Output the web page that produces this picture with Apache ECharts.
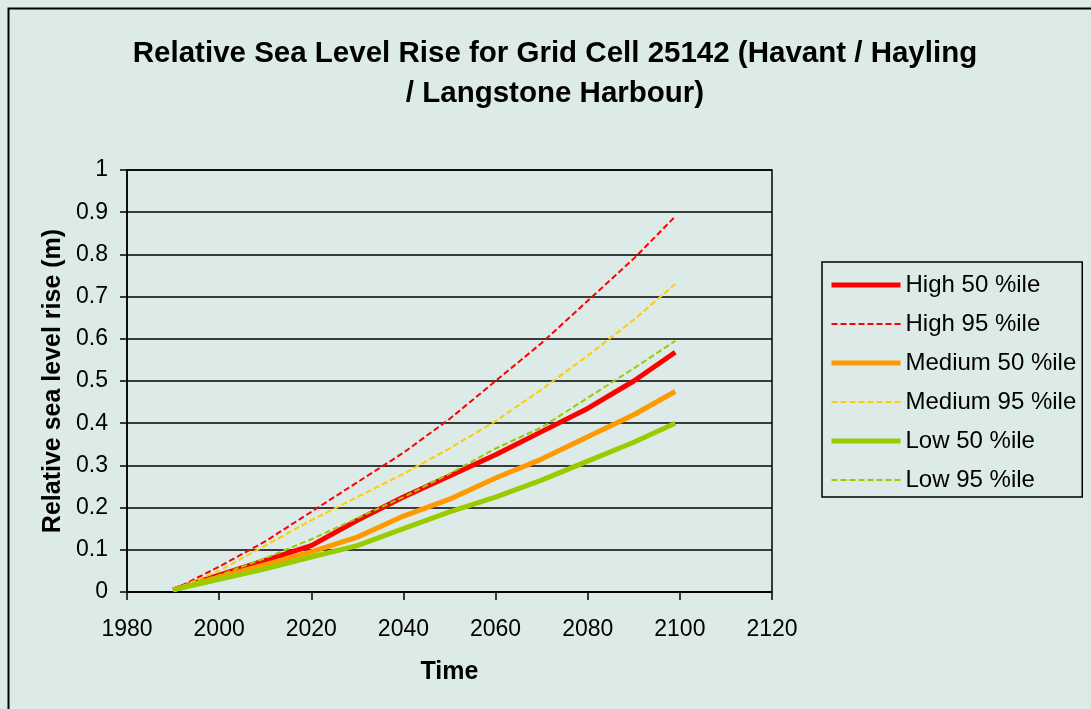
<!DOCTYPE html>
<html>
<head>
<meta charset="UTF-8">
<title>Relative Sea Level Rise</title>
<script src="https://cdn.jsdelivr.net/npm/echarts@6/dist/echarts.min.js"></script>
<style>
  html,body{margin:0;padding:0;width:100%;height:100%;background:#DCEAE8;}
  #main{width:1091px;height:709px;}
</style>
</head>
<body>
<div id="main"></div>
<script type="text/javascript">
// years
var years = [1990, 2000, 2010, 2020, 2030, 2040, 2050, 2060, 2070, 2080, 2090, 2099];

var high50   = [0.005, 0.040, 0.075, 0.110, 0.170, 0.225, 0.275, 0.325, 0.380, 0.435, 0.500, 0.568];
var high95   = [0.005, 0.060, 0.120, 0.190, 0.260, 0.330, 0.410, 0.500, 0.590, 0.690, 0.790, 0.890];
var medium50 = [0.005, 0.035, 0.065, 0.095, 0.130, 0.180, 0.220, 0.270, 0.315, 0.368, 0.420, 0.475];
var medium95 = [0.005, 0.050, 0.110, 0.170, 0.225, 0.280, 0.340, 0.405, 0.480, 0.560, 0.645, 0.730];
var low50    = [0.005, 0.030, 0.055, 0.083, 0.110, 0.150, 0.190, 0.225, 0.265, 0.310, 0.355, 0.400];
var low95    = [0.005, 0.040, 0.080, 0.125, 0.175, 0.225, 0.280, 0.340, 0.390, 0.460, 0.530, 0.595];

var names = ['High 50 %ile', 'High 95 %ile', 'Medium 50 %ile', 'Medium 95 %ile', 'Low 50 %ile', 'Low 95 %ile'];

function pairs(vals){
    return years.map(function(y, i){ return [y, vals[i]]; });
}

function solid(name, vals, color){
    return {
        name: name, type: 'line', symbol: 'none', data: pairs(vals),
        lineStyle: {color: color, width: 5}, itemStyle: {color: color}
    };
}
function dashed(name, vals, color){
    return {
        name: name, type: 'line', symbol: 'none', data: pairs(vals),
        lineStyle: {color: color, width: 2, type: [6, 3]}, itemStyle: {color: color}
    };
}

var chart = echarts.init(document.getElementById('main'));
var option = {
    backgroundColor: '#DCEAE8',
    animation: false,
    textStyle: {fontFamily: 'Liberation Sans, Arial'},
    graphic: [{
        type: 'rect', left: 6, top: 6,
        shape: {width: 1100, height: 720},
        style: {fill: 'none', stroke: '#000', lineWidth: 2}
    }],
    title: {
        text: 'Relative Sea Level Rise for Grid Cell 25142 (Havant / Hayling\n/ Langstone Harbour)',
        left: 550, top: 29, textAlign: 'center',
        textStyle: {fontSize: 29.5, fontWeight: 'bold', color: '#000', lineHeight: 40}
    },
    legend: {
        orient: 'vertical', left: 822, top: 262,
        itemWidth: 69, itemHeight: 14, itemGap: 15,
        padding: [11, 6, 5, 7],
        borderColor: '#000', borderWidth: 1.5,
        itemStyle: {opacity: 0},
        textStyle: {fontSize: 24, color: '#000'},
        data: names.map(function(n, i){
            return {name: n, lineStyle: {width: i % 2 ? 2 : 5}};
        })
    },
    grid: {left: 127, right: 319, top: 170, bottom: 117, show: true, borderColor: '#000', borderWidth: 1.5},
    xAxis: {
        type: 'value', min: 1980, max: 2120, interval: 20,
        name: 'Time', nameLocation: 'middle', nameGap: 68,
        nameTextStyle: {fontSize: 25, fontWeight: 'bold', color: '#000'},
        axisLine: {lineStyle: {color: '#000', width: 1.5}},
        axisTick: {show: true, length: 8, lineStyle: {color: '#000', width: 1.5}},
        axisLabel: {fontSize: 23, color: '#000', margin: 26, formatter: function(v){ return String(v); }},
        splitLine: {show: false}
    },
    yAxis: {
        type: 'value', min: 0, max: 1, interval: 0.1,
        name: 'Relative sea level rise (m)', nameLocation: 'middle', nameGap: 60,
        nameTextStyle: {fontSize: 25, fontWeight: 'bold', color: '#000'},
        axisLine: {show: true, lineStyle: {color: '#000', width: 1.5}},
        axisTick: {show: true, length: 7, lineStyle: {color: '#000', width: 1.5}},
        axisLabel: {fontSize: 23, color: '#000', margin: 19},
        splitLine: {show: true, lineStyle: {color: '#000', width: 1.5}}
    },
    series: [
        solid('High 50 %ile', high50, '#FF0000'),
        dashed('High 95 %ile', high95, '#FF0000'),
        solid('Medium 50 %ile', medium50, '#FF9900'),
        dashed('Medium 95 %ile', medium95, '#FFCC00'),
        solid('Low 50 %ile', low50, '#99CC00'),
        dashed('Low 95 %ile', low95, '#99CC00')
    ]
};
chart.setOption(option);
</script>
</body>
</html>
